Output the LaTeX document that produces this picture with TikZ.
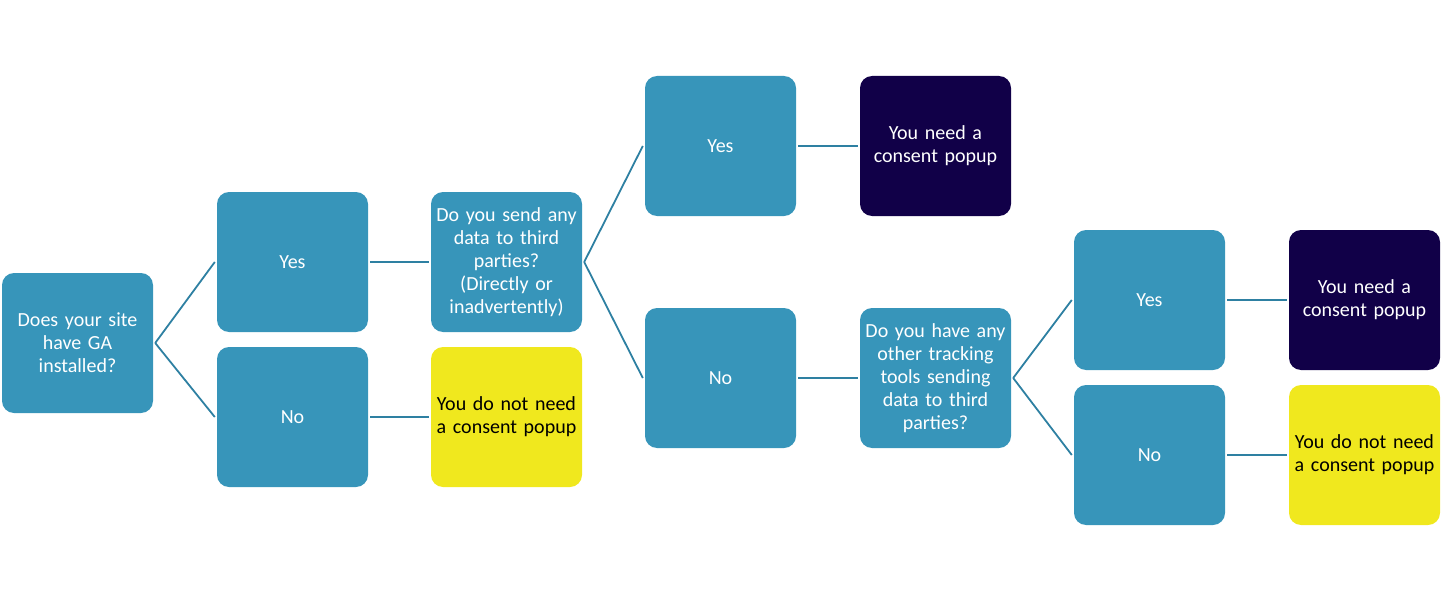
\documentclass[tikz,border=0pt]{standalone}
\usepackage{fontspec}
\setmainfont{Carlito}
\definecolor{boxblue}{RGB}{55,149,186}
\definecolor{boxpurple}{RGB}{17,0,72}
\definecolor{boxyellow}{RGB}{240,232,30}
\definecolor{lineblue}{RGB}{46,128,162}
\begin{document}
\begin{tikzpicture}[x=1pt,y=-1pt,
  bx/.style={rectangle, rounded corners=12pt, minimum width=151pt, minimum height=140pt,
    inner sep=0pt, text width=151pt, align=center, fill=boxblue, text=white,
    font=\fontsize{20}{23}\selectfont},
  dark/.style={bx, fill=boxpurple, text=white},
  yel/.style={bx, fill=boxyellow, text=black},
  conn/.style={draw=lineblue, line width=1.8pt}]
\useasboundingbox (0,0) rectangle (1452,602);
\node[bx] (root) at (77.5,343) {Does your site\\have GA\\installed?};
\node[bx] (yes1) at (292.5,262) {Yes};
\node[bx] (no1) at (292.5,417) {No};
\node[bx] (q2) at (506.5,262) {Do you send any\\data to third\\parties?\\(Directly or\\inadvertently)};
\node[yel] (y1) at (506.5,417) {You do not need\\a consent popup};
\node[bx] (yes2) at (720.5,146) {Yes};
\node[dark] (p1) at (935.5,146) {You need a\\consent popup};
\node[bx] (no2) at (720.5,378) {No};
\node[bx] (q3) at (935.5,378) {Do you have any\\other tracking\\tools sending\\data to third\\parties?};
\node[bx] (yes3) at (1149.5,300) {Yes};
\node[dark] (p2) at (1364.5,300) {You need a\\consent popup};
\node[bx] (no3) at (1149.5,455) {No};
\node[yel] (y2) at (1364.5,455) {You do not need\\a consent popup};
\draw[conn] ([xshift=2pt]root.east) -- ([xshift=-2pt]yes1.west);
\draw[conn] ([xshift=2pt]root.east) -- ([xshift=-2pt]no1.west);
\draw[conn] ([xshift=2pt]yes1.east) -- ([xshift=-2pt]q2.west);
\draw[conn] ([xshift=2pt]no1.east) -- ([xshift=-2pt]y1.west);
\draw[conn] ([xshift=2pt]q2.east) -- ([xshift=-2pt]yes2.west);
\draw[conn] ([xshift=2pt]q2.east) -- ([xshift=-2pt]no2.west);
\draw[conn] ([xshift=2pt]yes2.east) -- ([xshift=-2pt]p1.west);
\draw[conn] ([xshift=2pt]no2.east) -- ([xshift=-2pt]q3.west);
\draw[conn] ([xshift=2pt]q3.east) -- ([xshift=-2pt]yes3.west);
\draw[conn] ([xshift=2pt]q3.east) -- ([xshift=-2pt]no3.west);
\draw[conn] ([xshift=2pt]yes3.east) -- ([xshift=-2pt]p2.west);
\draw[conn] ([xshift=2pt]no3.east) -- ([xshift=-2pt]y2.west);
\end{tikzpicture}
\end{document}
